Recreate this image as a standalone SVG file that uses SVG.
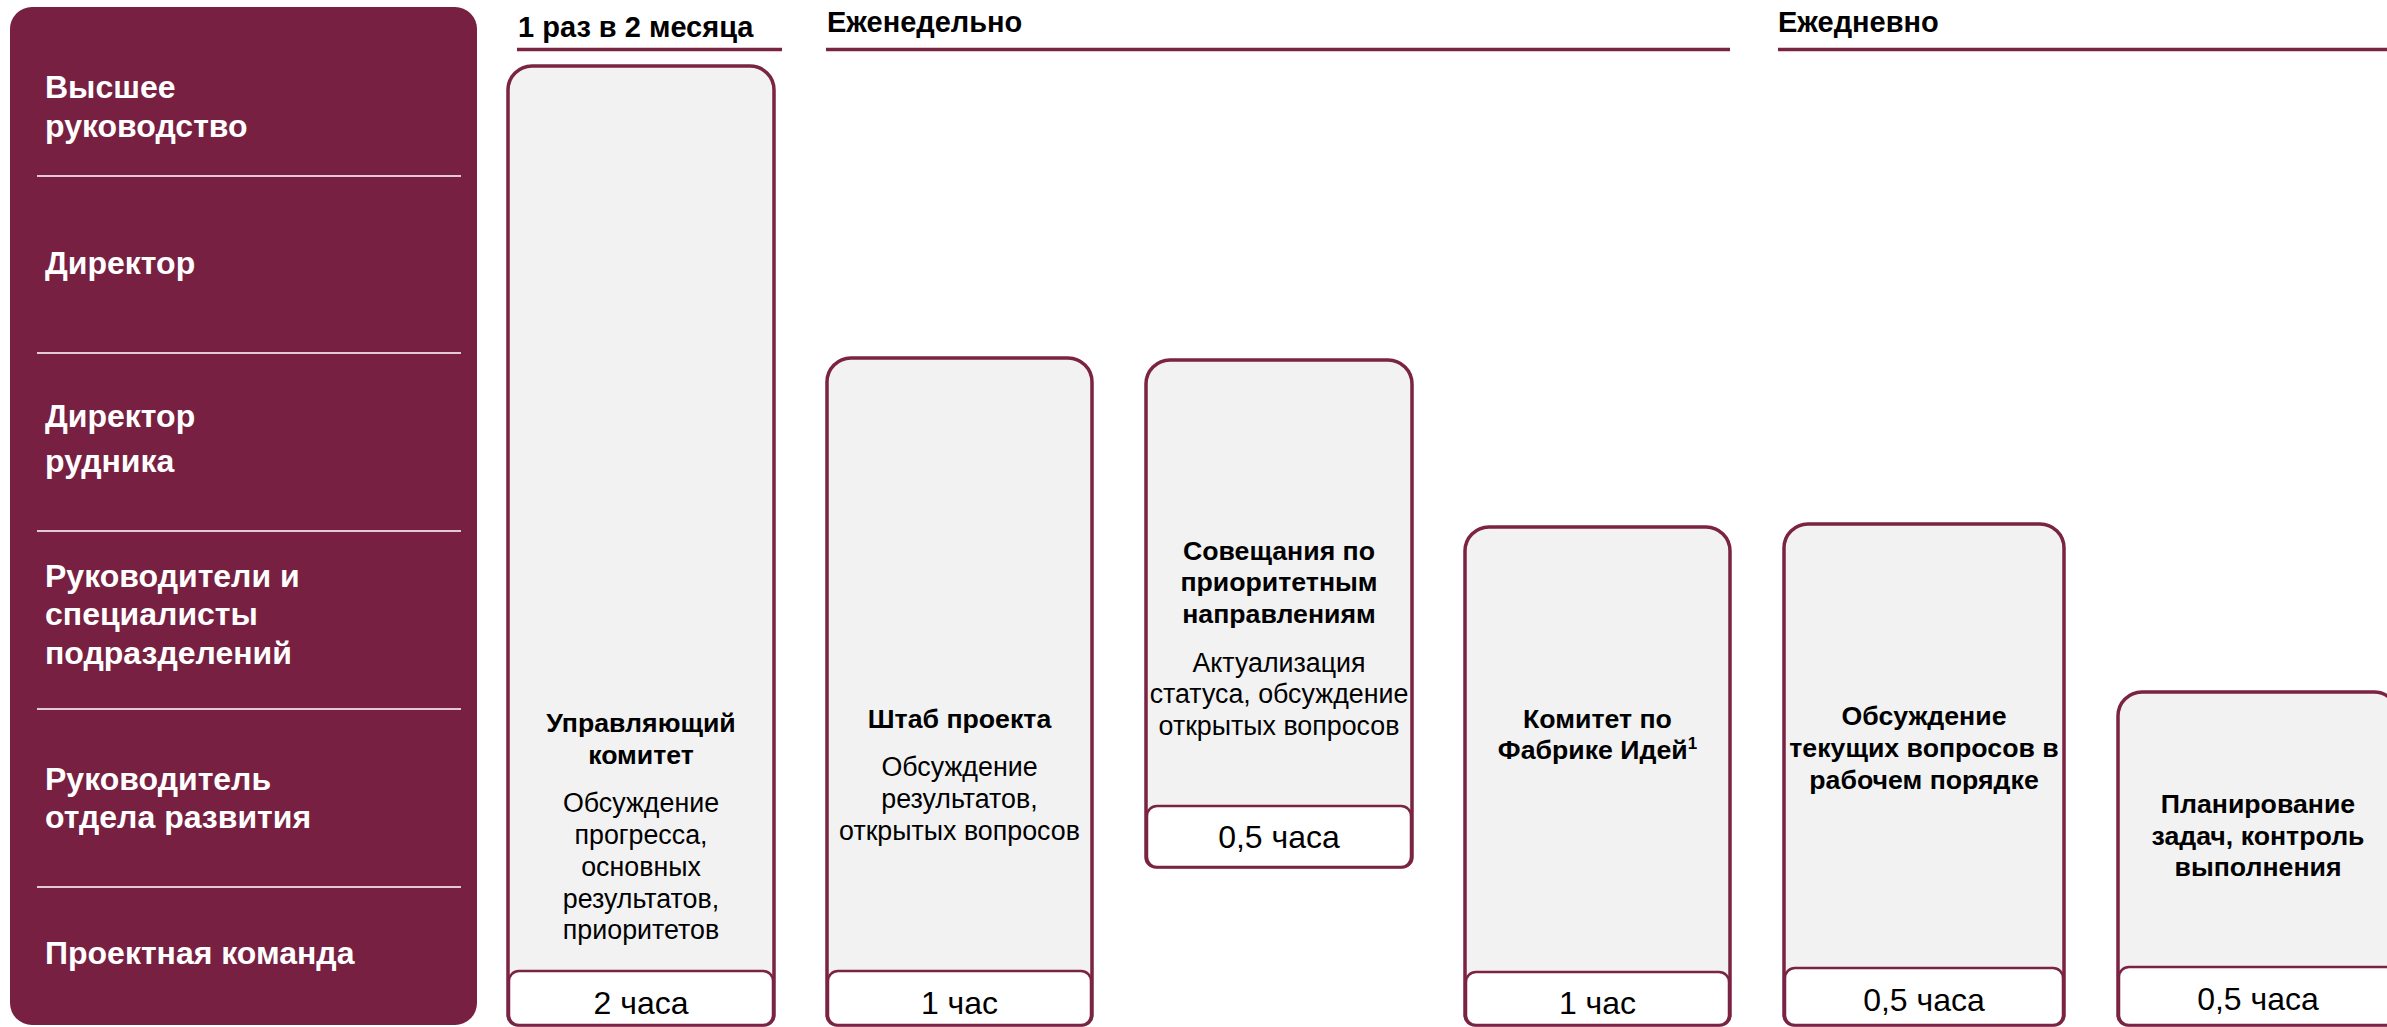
<svg xmlns="http://www.w3.org/2000/svg" width="2387" height="1027" viewBox="0 0 2387 1027">
<style>
.bg{fill:#ffffff}
.panel{fill:#782041}
.sep{stroke:#e3c9d2;stroke-width:2}
.lbl{font-family:"Liberation Sans",Arial,sans-serif;font-weight:bold;font-size:32px;fill:#ffffff}
.hdr{font-family:"Liberation Sans",Arial,sans-serif;font-weight:bold;font-size:29px;fill:#000000}
.hline{stroke:#7a2343;stroke-width:3.5}
.card{fill:#f2f2f2;stroke:#7a2343;stroke-width:3.5}
.foot{fill:#ffffff;stroke:#7a2343;stroke-width:2.5}
.ttl{font-family:"Liberation Sans",Arial,sans-serif;font-weight:bold;font-size:26.7px;fill:#000000;text-anchor:middle}
.dsc{font-family:"Liberation Sans",Arial,sans-serif;font-size:26.8px;fill:#000000;text-anchor:middle}
.dur{font-family:"Liberation Sans",Arial,sans-serif;font-size:32px;fill:#000000;text-anchor:middle}
</style>
<rect class="bg" x="0" y="0" width="2387" height="1027"/>

<g id="roles">
  <rect class="panel" x="10" y="7" width="467" height="1018" rx="22" ry="22"/>
  <line class="sep" x1="37" y1="176" x2="461" y2="176"/>
  <line class="sep" x1="37" y1="353" x2="461" y2="353"/>
  <line class="sep" x1="37" y1="531" x2="461" y2="531"/>
  <line class="sep" x1="37" y1="709" x2="461" y2="709"/>
  <line class="sep" x1="37" y1="887" x2="461" y2="887"/>
  <text class="lbl" x="45" y="98">Высшее</text>
  <text class="lbl" x="45" y="137">руководство</text>
  <text class="lbl" x="45" y="274">Директор</text>
  <text class="lbl" x="45" y="427">Директор</text>
  <text class="lbl" x="45" y="472">рудника</text>
  <text class="lbl" x="45" y="587">Руководители и</text>
  <text class="lbl" x="45" y="625">специалисты</text>
  <text class="lbl" x="45" y="664">подразделений</text>
  <text class="lbl" x="45" y="790">Руководитель</text>
  <text class="lbl" x="45" y="828">отдела развития</text>
  <text class="lbl" x="45" y="964">Проектная команда</text>
</g>

<g id="headers">
  <text class="hdr" x="518" y="37">1 раз в 2 месяца</text>
  <line class="hline" x1="517" y1="49.5" x2="782" y2="49.5"/>
  <text class="hdr" x="827" y="32">Еженедельно</text>
  <line class="hline" x1="826" y1="49.5" x2="1730" y2="49.5"/>
  <text class="hdr" x="1778" y="32">Ежедневно</text>
  <line class="hline" x1="1778" y1="49.5" x2="2387" y2="49.5"/>
</g>

<g id="card-steering">
  <path class="card" d="M508,1015 V90 A24,24 0 0 1 532,66 H750 A24,24 0 0 1 774,90 V1015 A10,10 0 0 1 764,1025 H518 A10,10 0 0 1 508,1015 Z"/>
  <rect class="foot" x="509" y="971" width="264" height="54" rx="10" ry="10"/>
  <text class="ttl" x="641" y="732">Управляющий</text>
  <text class="ttl" x="641" y="764">комитет</text>
  <text class="dsc" x="641" y="812">Обсуждение</text>
  <text class="dsc" x="641" y="844">прогресса,</text>
  <text class="dsc" x="641" y="876">основных</text>
  <text class="dsc" x="641" y="908">результатов,</text>
  <text class="dsc" x="641" y="939">приоритетов</text>
  <text class="dur" x="641" y="1014">2 часа</text>
</g>

<g id="card-hq">
  <path class="card" d="M827,1015 V382 A24,24 0 0 1 851,358 H1068 A24,24 0 0 1 1092,382 V1015 A10,10 0 0 1 1082,1025 H837 A10,10 0 0 1 827,1015 Z"/>
  <rect class="foot" x="828" y="971" width="263" height="54" rx="10" ry="10"/>
  <text class="ttl" x="959.5" y="728">Штаб проекта</text>
  <text class="dsc" x="959.5" y="776">Обсуждение</text>
  <text class="dsc" x="959.5" y="808">результатов,</text>
  <text class="dsc" x="959.5" y="840">открытых вопросов</text>
  <text class="dur" x="959.5" y="1014">1 час</text>
</g>

<g id="card-priority">
  <path class="card" d="M1146,857 V384 A24,24 0 0 1 1170,360 H1388 A24,24 0 0 1 1412,384 V857 A10,10 0 0 1 1402,867 H1156 A10,10 0 0 1 1146,857 Z"/>
  <rect class="foot" x="1147" y="806" width="264" height="61" rx="10" ry="10"/>
  <text class="ttl" x="1279" y="560">Совещания по</text>
  <text class="ttl" x="1279" y="591">приоритетным</text>
  <text class="ttl" x="1279" y="623">направлениям</text>
  <text class="dsc" x="1279" y="672">Актуализация</text>
  <text class="dsc" x="1279" y="703">статуса, обсуждение</text>
  <text class="dsc" x="1279" y="735">открытых вопросов</text>
  <text class="dur" x="1279" y="848">0,5 часа</text>
</g>

<g id="card-ideas">
  <path class="card" d="M1465,1015 V551 A24,24 0 0 1 1489,527 H1706 A24,24 0 0 1 1730,551 V1015 A10,10 0 0 1 1720,1025 H1475 A10,10 0 0 1 1465,1015 Z"/>
  <rect class="foot" x="1466" y="972" width="263" height="53" rx="10" ry="10"/>
  <text class="ttl" x="1597.5" y="728">Комитет по</text>
  <text class="ttl" x="1597.5" y="759">Фабрике Идей<tspan font-size="17" dy="-10">1</tspan></text>
  <text class="dur" x="1597.5" y="1014">1 час</text>
</g>

<g id="card-current">
  <path class="card" d="M1784,1015 V548 A24,24 0 0 1 1808,524 H2040 A24,24 0 0 1 2064,548 V1015 A10,10 0 0 1 2054,1025 H1794 A10,10 0 0 1 1784,1015 Z"/>
  <rect class="foot" x="1785" y="968" width="278" height="57" rx="10" ry="10"/>
  <text class="ttl" x="1924" y="725">Обсуждение</text>
  <text class="ttl" x="1924" y="757">текущих вопросов в</text>
  <text class="ttl" x="1924" y="789">рабочем порядке</text>
  <text class="dur" x="1924" y="1011">0,5 часа</text>
</g>

<g id="card-planning">
  <path class="card" d="M2118,1015 V716 A24,24 0 0 1 2142,692 H2374 A24,24 0 0 1 2398,716 V1015 A10,10 0 0 1 2388,1025 H2128 A10,10 0 0 1 2118,1015 Z"/>
  <rect class="foot" x="2119" y="967" width="278" height="58" rx="10" ry="10"/>
  <text class="ttl" x="2258" y="813">Планирование</text>
  <text class="ttl" x="2258" y="845">задач, контроль</text>
  <text class="ttl" x="2258" y="876">выполнения</text>
  <text class="dur" x="2258" y="1010">0,5 часа</text>
</g>

<g id="connectors"></g>
</svg>
